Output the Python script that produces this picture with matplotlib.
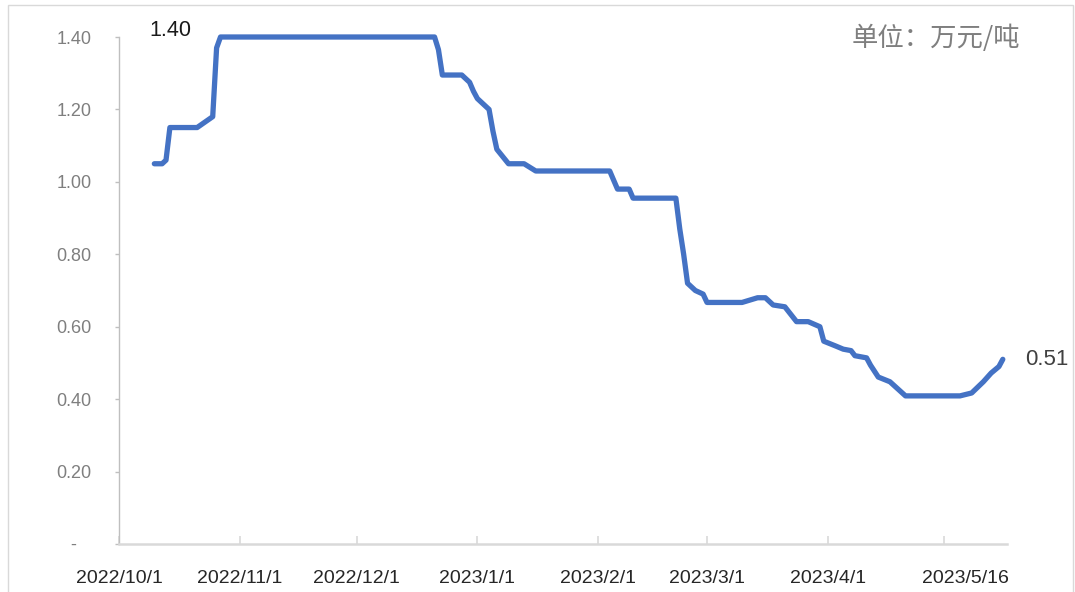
import matplotlib
matplotlib.use("Agg")
import matplotlib.pyplot as plt
import matplotlib.transforms as mtransforms
from matplotlib.patches import Rectangle
import pandas as pd

# ---- data ----
dates = ["2022-10-10", "2022-10-12", "2022-10-13", "2022-10-14", "2022-10-21",
         "2022-10-25", "2022-10-26", "2022-10-27", "2022-12-21", "2022-12-22",
         "2022-12-23", "2022-12-28", "2022-12-30", "2022-12-31", "2023-01-01",
         "2023-01-04", "2023-01-05", "2023-01-06", "2023-01-09", "2023-01-13",
         "2023-01-16", "2023-02-04", "2023-02-06", "2023-02-09", "2023-02-10",
         "2023-02-21", "2023-02-22", "2023-02-23", "2023-02-24", "2023-02-26",
         "2023-02-28", "2023-03-01", "2023-03-10", "2023-03-14", "2023-03-16",
         "2023-03-18", "2023-03-21", "2023-03-24", "2023-03-27", "2023-03-30",
         "2023-03-31", "2023-04-03", "2023-04-05", "2023-04-07", "2023-04-08",
         "2023-04-11", "2023-04-12", "2023-04-14", "2023-04-17", "2023-04-21",
         "2023-05-05", "2023-05-08", "2023-05-11", "2023-05-13", "2023-05-15",
         "2023-05-16"]
prices = [1.05, 1.05, 1.06, 1.15, 1.15,
          1.18, 1.37, 1.40, 1.40, 1.365,
          1.295, 1.295, 1.275, 1.25, 1.23,
          1.20, 1.14, 1.09, 1.05, 1.05,
          1.03, 1.03, 0.98, 0.98, 0.955,
          0.955, 0.87, 0.80, 0.72, 0.70,
          0.69, 0.667, 0.667, 0.68, 0.68,
          0.66, 0.655, 0.614, 0.614, 0.60,
          0.56, 0.547, 0.538, 0.534, 0.52,
          0.514, 0.494, 0.461, 0.448, 0.409,
          0.409, 0.417, 0.448, 0.472, 0.49,
          0.51]
tick_dates = ["2022-10-01", "2022-11-01", "2022-12-01", "2023-01-01",
              "2023-02-01", "2023-03-01", "2023-04-01", "2023-05-01"]
tick_labels = ["2022/10/1", "2022/11/1", "2022/12/1", "2023/1/1",
               "2023/2/1", "2023/3/1", "2023/4/1", "2023/5/16"]
y_ticks = [0, 0.2, 0.4, 0.6, 0.8, 1.0, 1.2, 1.4]
y_labels = ["-   ", "0.20", "0.40", "0.60", "0.80", "1.00", "1.20", "1.40"]
max_label = "1.40"
last_label = "0.51"
unit_text = "单位：万元/吨"

x = pd.to_datetime(dates)
xt = pd.to_datetime(tick_dates)

plt.rcParams['font.family'] = ['Liberation Sans', 'DejaVu Sans']

W, H = 1075, 592
fig = plt.figure(figsize=(W / 100, H / 100), dpi=100)
fig.patch.set_facecolor("white")
ax = fig.add_axes([119.3 / W, 1 - 544 / H, (1006.7 - 119.3) / W, (544 - 37) / H])

ax.plot(x, prices, color="#4472C4", lw=3.8, solid_joinstyle="round",
        solid_capstyle="round", clip_on=False, zorder=3)

ax.set_ylim(0, 1.4)
ax.set_xlim(pd.Timestamp("2022-10-01"), pd.Timestamp("2023-05-17"))

ax.set_yticks(y_ticks)
ax.set_yticklabels(y_labels)
ax.set_xticks(xt)
ax.set_xticklabels(tick_labels)

for s in ["top", "right"]:
    ax.spines[s].set_visible(False)
ax.spines["left"].set_color("#bfbfbf")
ax.spines["left"].set_linewidth(1.0)
ax.spines["bottom"].set_color("#d9d9d9")
ax.spines["bottom"].set_linewidth(1.8)

ax.tick_params(axis="y", direction="out", length=3, width=1.0, color="#bfbfbf",
               labelsize=13, labelcolor="#7f7f7f", pad=17)
ax.tick_params(axis="x", direction="in", length=6, width=1.2, color="#d9d9d9",
               labelsize=14, labelcolor="#262626", pad=19)

# shift last x label to the right as in the reference
last = ax.get_xticklabels()[-1]
last.set_transform(last.get_transform() +
                   mtransforms.ScaledTranslation(21 / 100, 0, fig.dpi_scale_trans))

# annotations
ax.annotate(max_label, xy=(x[7], prices[7]), xytext=(-50 * 0.72, 7 * 0.72),
            textcoords="offset points", ha="center", va="center",
            fontsize=15.5, color="#1a1a1a", annotation_clip=False)
ax.annotate(last_label, xy=(x[-1], prices[-1]), xytext=(22 * 0.72, 0),
            textcoords="offset points", ha="left", va="center",
            fontsize=16, color="#404040", annotation_clip=False)

fig.text(852 / W, 1 - 38 / H, unit_text, ha="left", va="center", fontsize=19,
         color="#7f7f7f", family=["Noto Sans CJK SC", "DejaVu Sans"])

# outer frame
fig.patches.append(Rectangle((8 / W, -0.05), (1073 - 8) / W, 1.05 - 5 / H,
                             transform=fig.transFigure, fill=False,
                             edgecolor="#d9d9d9", lw=1.0))

fig.savefig("out.png", dpi=100, facecolor="white")
